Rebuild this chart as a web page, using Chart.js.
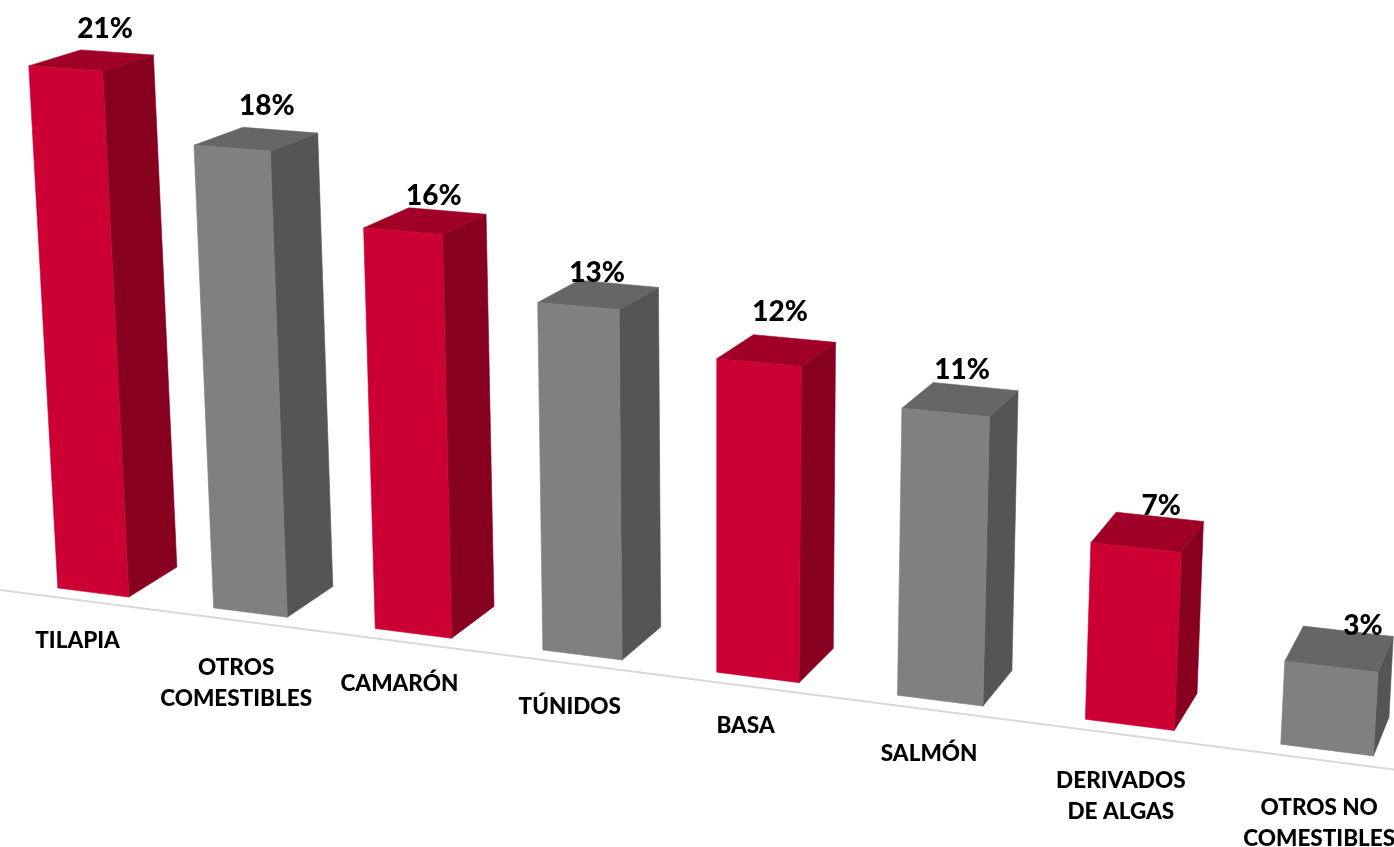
<!DOCTYPE html>
<html><head><meta charset="utf-8">
<style>html,body{margin:0;padding:0;background:#fff;overflow:hidden}canvas{display:block}</style>
<script src="https://cdn.jsdelivr.net/npm/chart.js@4"></script></head>
<body><canvas id="c" width="1394" height="847"></canvas>
<script>
const categories=[['TILAPIA'],['OTROS','COMESTIBLES'],['CAMARÓN'],['TÚNIDOS'],['BASA'],['SALMÓN'],['DERIVADOS','DE ALGAS'],['OTROS NO','COMESTIBLES']];
const shares=[21,18.4,15.75,13.49,12,10.82,6.6,3.07];
const frontColors=['#CC0033','#808080','#CC0033','#808080','#CC0033','#808080','#CC0033','#808080'];
const sideColors=['#87001F','#555555','#87001F','#555555','#87001F','#555555','#87001F','#555555'];
const topColors=['#A00028','#666666','#A00028','#666666','#A00028','#666666','#A00028','#666666'];
// label placement relative to the projected bar (style only)
const valueNudge=[[14,-31],[11,-33],[9,-25],[-1,-22],[4,-39],[2,-30],[14,-26],[24,-23]];
const categoryNudge=[[-18,3],[-16,9],[-15,4],[-13,4],[-12,0],[-10,4],[-7,6],[-5,7]];
// perspective view of the chart plane: corners [baseL, baseR, topR, topL]
const frontQuad=[[16.7,582.75],[1428.5,763],[1465,163],[-14,63]];
const backQuad=[[66.2,553.4],[1442,723.8],[1475,147],[38.5,47]];
const Y_MAX=21;

function homography(q){
  const [[x0,y0],[x1,y1],[x2,y2],[x3,y3]]=q;
  const dx1=x1-x2,dx2=x3-x2,sx=x0-x1+x2-x3,dy1=y1-y2,dy2=y3-y2,sy=y0-y1+y2-y3;
  const den=dx1*dy2-dx2*dy1;
  const g=(sx*dy2-dx2*sy)/den,h=(dx1*sy-sx*dy1)/den;
  const a=x1-x0+g*x1,b=x3-x0+h*x3,d=y1-y0+g*y1,e=y3-y0+h*y3;
  return (s,t)=>{const w=g*s+h*t+1;return [(a*s+b*t+x0)/w,(d*s+e*t+y0)/w];};
}
const hFront=homography(frontQuad),hBack=homography(backQuad);
function projector(chart){
  const {left,right}=chart.chartArea,y=chart.scales.y;
  const p0=y.getPixelForValue(0),p1=y.getPixelForValue(Y_MAX);
  const st=(px,py)=>[(px-left)/(right-left),(py-p0)/(p1-p0)];
  return {front:(px,py)=>hFront(...st(px,py)),back:(px,py)=>hBack(...st(px,py))};
}
function poly(ctx,pts,color){
  ctx.beginPath();pts.forEach((p,i)=>i?ctx.lineTo(p[0],p[1]):ctx.moveTo(p[0],p[1]));ctx.closePath();
  ctx.fillStyle=color;ctx.strokeStyle=color;ctx.lineWidth=.6;ctx.fill();ctx.stroke();
}
class Bar3D extends Chart.BarController{
  draw(){
    const chart=this.chart,ctx=chart.ctx,P=projector(chart);
    this.getMeta().data.forEach((el,i)=>{
      const {x,y,base,width}=el.getProps(['x','y','base','width'],true);
      const l=x-width/2,r=x+width/2;
      poly(ctx,[P.front(r,y),P.back(r,y),P.back(r,base),P.front(r,base)],sideColors[i]);
      poly(ctx,[P.front(l,y),P.front(r,y),P.back(r,y),P.back(l,y)],topColors[i]);
      poly(ctx,[P.front(l,y),P.front(r,y),P.front(r,base),P.front(l,base)],frontColors[i]);
    });
  }
}
Bar3D.id='bar3d';
Bar3D.defaults=Chart.BarController.defaults;
Bar3D.overrides=Chart.BarController.overrides;
Chart.register(Bar3D);

const scene={
  id:'scene',
  beforeDatasetsDraw(chart){
    const ctx=chart.ctx,P=projector(chart),{left,right}=chart.chartArea,y=chart.scales.y;
    const a=P.front(left-30,y.getPixelForValue(-0.4)),b=P.front(right,y.getPixelForValue(-0.4));
    ctx.save();ctx.strokeStyle='#D9D9D9';ctx.lineWidth=2;ctx.beginPath();ctx.moveTo(a[0],a[1]);ctx.lineTo(b[0],b[1]);ctx.stroke();ctx.restore();
  },
  afterDatasetsDraw(chart){
    const ctx=chart.ctx,P=projector(chart),x=chart.scales.x,y=chart.scales.y;
    const meta=chart.getDatasetMeta(0);
    ctx.save();ctx.fillStyle='#000';ctx.textAlign='center';ctx.textBaseline='middle';
    meta.data.forEach((el,i)=>{
      const {x:bx,y:by,width}=el.getProps(['x','y','width'],true);
      const f=P.front(bx-width/2,by),b=P.back(bx+width/2,by);
      ctx.font='900 28px Lato';
      ctx.fillText(Math.round(shares[i])+'%',(f[0]+b[0])/2+valueNudge[i][0],(f[1]+b[1])/2+valueNudge[i][1]);
      const at=P.front(x.getPixelForValue(i),y.getPixelForValue(-1.9));
      ctx.font='900 22.5px Lato';
      x.getLabelForValue(i).forEach((line,k)=>ctx.fillText(line,at[0]+categoryNudge[i][0],at[1]+categoryNudge[i][1]+k*31));
    });
    ctx.restore();
  }
};
new Chart(document.getElementById('c'),{
  type:'bar3d',
  data:{labels:categories,datasets:[{data:shares,backgroundColor:frontColors,barPercentage:0.46,categoryPercentage:1}]},
  options:{responsive:false,animation:false,
    plugins:{legend:{display:false},tooltip:{enabled:false}},
    layout:{padding:0},
    scales:{x:{display:false},y:{display:false,min:0,max:Y_MAX}}},
  plugins:[scene]
});
</script></body></html>
